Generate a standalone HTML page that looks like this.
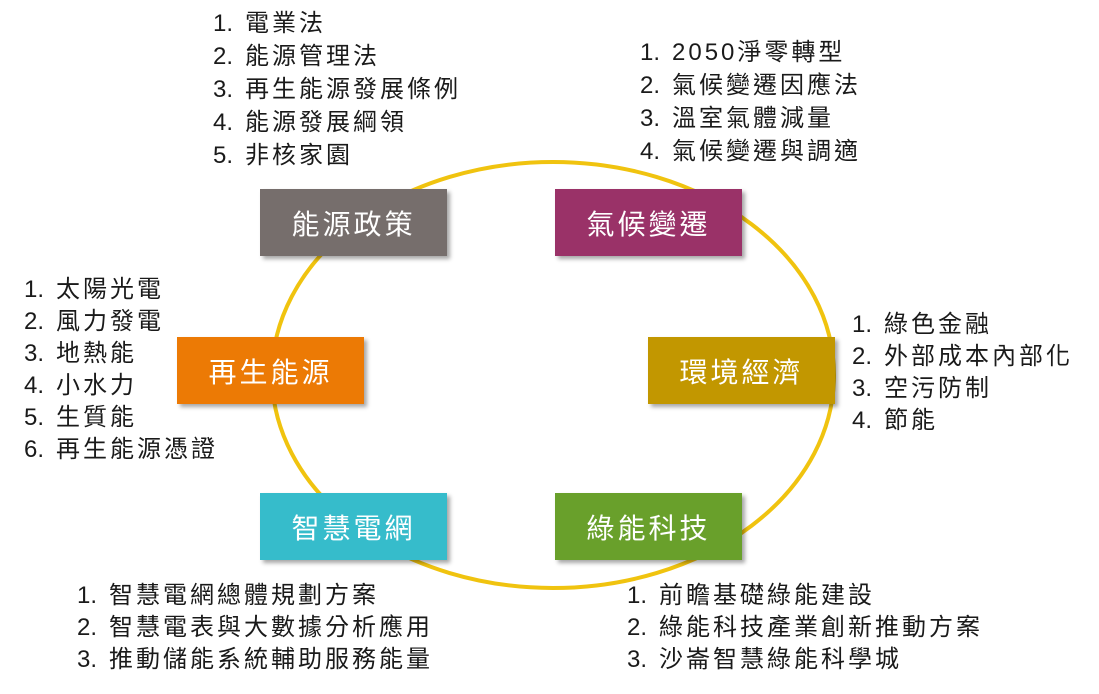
<!DOCTYPE html>
<html><head><meta charset="utf-8"><style>
body{margin:0;width:1099px;height:694px;background:#fff;position:relative;overflow:hidden;font-family:"Liberation Sans","Noto Sans CJK TC",sans-serif;}
.b{position:absolute;width:187px;height:67px;color:#fff;font-size:28px;display:flex;align-items:center;justify-content:center;box-shadow:3px 3px 4px rgba(0,0,0,0.35);letter-spacing:3px}
.l{position:absolute;font-size:24px;color:#1a1a1a;line-height:33px;white-space:nowrap;letter-spacing:3px}
.l i{font-style:normal;display:inline-block;width:32px;letter-spacing:0}
</style></head><body>
<svg width="1099" height="694" style="position:absolute;left:0;top:0"><ellipse cx="553" cy="375" rx="281" ry="213" fill="none" stroke="#f0c30f" stroke-width="4"/></svg>
<div class="b" style="left:260px;top:189px;background:#766e6c">能源政策</div>
<div class="b" style="left:555px;top:189px;background:#9a3268">氣候變遷</div>
<div class="b" style="left:177px;top:337px;background:#ec7a05">再生能源</div>
<div class="b" style="left:648px;top:337px;background:#c29700">環境經濟</div>
<div class="b" style="left:260px;top:493px;background:#36bccb">智慧電網</div>
<div class="b" style="left:555px;top:493px;background:#69a02b">綠能科技</div>
<div class="l" style="left:213px;top:7px"><i>1.</i>電業法<br><i>2.</i>能源管理法<br><i>3.</i>再生能源發展條例<br><i>4.</i>能源發展綱領<br><i>5.</i>非核家園</div>
<div class="l" style="left:640px;top:36px"><i>1.</i>2050淨零轉型<br><i>2.</i>氣候變遷因應法<br><i>3.</i>溫室氣體減量<br><i>4.</i>氣候變遷與調適</div>
<div class="l" style="left:24px;top:274px;line-height:32px"><i>1.</i>太陽光電<br><i>2.</i>風力發電<br><i>3.</i>地熱能<br><i>4.</i>小水力<br><i>5.</i>生質能<br><i>6.</i>再生能源憑證</div>
<div class="l" style="left:852px;top:309px;line-height:32px"><i>1.</i>綠色金融<br><i>2.</i>外部成本內部化<br><i>3.</i>空污防制<br><i>4.</i>節能</div>
<div class="l" style="left:77px;top:580px;line-height:32px"><i>1.</i>智慧電網總體規劃方案<br><i>2.</i>智慧電表與大數據分析應用<br><i>3.</i>推動儲能系統輔助服務能量</div>
<div class="l" style="left:627px;top:580px;line-height:32px"><i>1.</i>前瞻基礎綠能建設<br><i>2.</i>綠能科技產業創新推動方案<br><i>3.</i>沙崙智慧綠能科學城</div>
</body></html>
